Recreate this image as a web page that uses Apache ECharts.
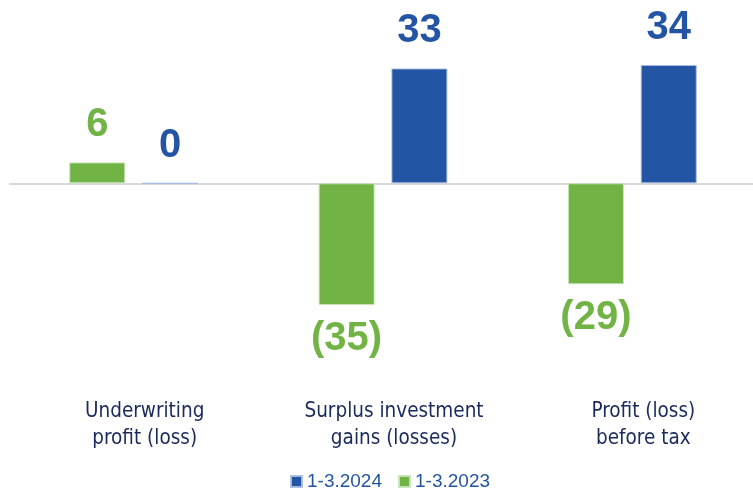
<!DOCTYPE html>
<html>
<head>
<meta charset="utf-8">
<script src="https://cdn.jsdelivr.net/npm/echarts@6/dist/echarts.min.js"></script>
<style>
html,body{margin:0;padding:0;background:#fff;}
#chart{width:753px;height:491px;}
</style>
</head>
<body>
<div id="chart"></div>
<script>
var categories = ['Underwriting\nprofit (loss)', 'Surplus investment\ngains (losses)', 'Profit (loss)\nbefore tax'];
var seriesNames = ['1-3.2024', '1-3.2023'];
var values2024 = [0, 33, 34];
var values2023 = [6, -35, -29];

var BLUE = '#2455A4';
var GREEN = '#71B345';

function fmt(v) {
  var r = Math.round(Math.abs(v));
  return v < 0 ? '(' + r + ')' : String(r);
}
function buildData(arr) {
  return arr.map(function (v) {
    return {
      value: v,
      label: v < 0 ? { position: 'bottom', distance: 14 } : { position: 'top', distance: 17 }
    };
  });
}

var chart = echarts.init(document.getElementById('chart'), null, { renderer: 'canvas' });
var labelBase = {
  show: true,
  fontFamily: 'Liberation Sans, Arial, sans-serif',
  fontWeight: 'bold',
  fontSize: 40,
  formatter: function (p) { return fmt(p.value); }
};
chart.setOption({
  animation: false,
  backgroundColor: '#ffffff',
  legend: {
    data: [seriesNames[0], seriesNames[1]],
    left: 290,
    top: 472,
    padding: 0,
    itemWidth: 11,
    itemHeight: 11,
    itemGap: 16,
    icon: 'rect',
    textStyle: {
      fontFamily: 'Liberation Sans Narrow, Arial Narrow, Liberation Sans, sans-serif',
      fontSize: 19,
      color: BLUE
    }
  },
  grid: { left: 9, width: 748, top: 9.3, bottom: 98.9, containLabel: false, outerBoundsMode: 'none' },
  xAxis: {
    type: 'category',
    data: categories,
    axisLine: { show: false },
    axisTick: { show: false },
    axisLabel: {
      margin: 6,
      fontFamily: 'DejaVu Sans Condensed, DejaVu Sans, sans-serif',
      fontSize: 20.5,
      lineHeight: 27,
      color: '#1A2A5C',
      padding: [0, 0, 0, 22]
    }
  },
  yAxis: {
    type: 'value',
    min: -60,
    max: 50,
    show: false,
    splitLine: { show: false }
  },
  series: [
    {
      name: seriesNames[1],
      type: 'bar',
      barWidth: 56,
      barGap: '30%',
      data: buildData(values2023),
      itemStyle: { color: GREEN, borderColor: 'rgba(200,230,185,0.9)', borderWidth: 1 },
      label: Object.assign({ color: GREEN }, labelBase),
      markLine: {
        silent: true,
        symbol: 'none',
        label: { show: false },
        lineStyle: { color: '#D9D9D9', width: 2, type: 'solid' },
        data: [{ yAxis: 0 }],
        z: 1
      },
      z: 3
    },
    {
      name: seriesNames[0],
      type: 'bar',
      barWidth: 56,
      barGap: '30%',
      data: buildData(values2024),
      itemStyle: { color: BLUE, borderColor: 'rgba(170,190,225,0.9)', borderWidth: 1 },
      label: Object.assign({ color: BLUE }, labelBase),
      z: 3
    }
  ]
});
</script>
</body>
</html>
